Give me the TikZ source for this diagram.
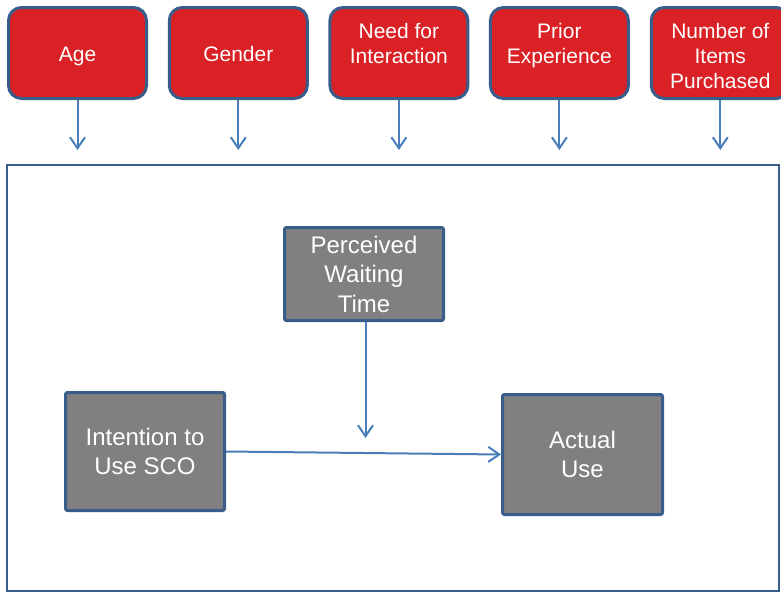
\documentclass[tikz,border=0pt]{standalone}
\usepackage{fontspec}
\setmainfont{Liberation Sans}
\usetikzlibrary{arrows.meta}
\definecolor{factorred}{RGB}{218,33,38}
\definecolor{edgeblue}{RGB}{56,93,138}
\definecolor{linkblue}{RGB}{74,126,187}
\definecolor{constructgray}{RGB}{128,128,128}
\begin{document}
\begin{tikzpicture}[x=1pt,y=-1pt,
  factor/.style={draw=edgeblue,line width=3pt,fill=factorred,rounded corners=13pt,
    minimum width=138pt,minimum height=91pt,inner sep=0pt},
  factortext/.style={text=white,font=\fontsize{21}{25}\selectfont,align=center,
    inner sep=0pt,anchor=base},
  construct/.style={draw=edgeblue,line width=3pt,fill=constructgray,rounded corners=2pt,
    text=white,font=\fontsize{24}{29.5}\selectfont,align=center,inner sep=0pt},
  container/.style={draw=edgeblue,line width=2pt,inner sep=0pt},
  link/.style={draw=linkblue,line width=2pt,-{Straight Barb[length=11pt,width=15pt]}}]
\useasboundingbox (0,0) rectangle (781,592);

% outer frame of the research model
\node[container,minimum width=772pt,minimum height=426pt] (model) at (393,378) {};

% moderating factors along the top
\node[factor] (age)   at (77.5,53)  {};
\node[factor] (gen)   at (238.3,53) {};
\node[factor] (nfi)   at (398.9,53) {};
\node[factor] (prior) at (559.4,53) {};
\node[factor] (items) at (720.3,53) {};

% labels set by the baseline of their last line
\node[factortext] (age-t)   at (77.5,61)  {Age};
\node[factortext] (gen-t)   at (238.3,61) {Gender};
\node[factortext] (nfi-t)   at (398.9,63) {Need for\\Interaction};
\node[factortext] (prior-t) at (559.4,63) {Prior\\Experience};
\node[factortext] (items-t) at (720.3,88) {Number of\\Items\\Purchased};

\coordinate (age-e)   at (77.5,150);
\coordinate (gen-e)   at (238.3,150);
\coordinate (nfi-e)   at (398.9,150);
\coordinate (prior-e) at (559.4,150);
\coordinate (items-e) at (720.3,150);

\draw[link] (age.south)   -- (age-e);
\draw[link] (gen.south)   -- (gen-e);
\draw[link] (nfi.south)   -- (nfi-e);
\draw[link] (prior.south) -- (prior-e);
\draw[link] (items.south) -- (items-e);

% core constructs
\node[construct,minimum width=159pt,minimum height=93pt] (pwt) at (364,274)
  {Perceived\\Waiting\\Time};
\node[construct,minimum width=159pt,minimum height=118pt] (itu) at (145,451.5)
  {Intention to\\Use SCO};
\node[construct,minimum width=160pt,minimum height=120pt] (au) at (582.5,454.5)
  {Actual\\Use};

\coordinate (pwt-s) at (365.5,322);
\coordinate (pwt-e) at (365.5,438);
\draw[link] (pwt-s) -- (pwt-e);
\draw[link] (itu.east) -- (au.west);
\end{tikzpicture}
\end{document}
